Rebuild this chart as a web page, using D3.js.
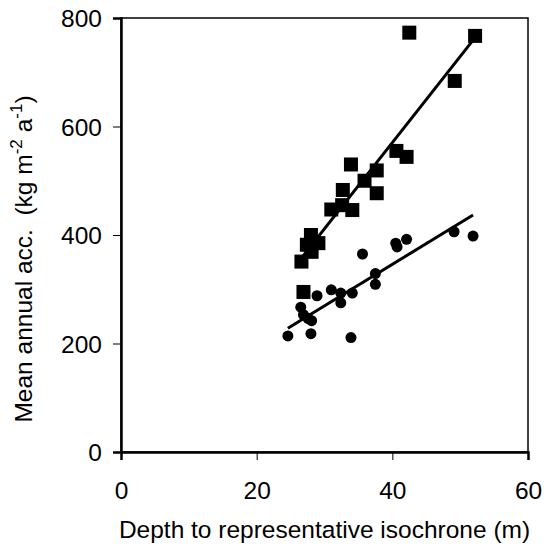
<!DOCTYPE html>
<html>
  <head>
    <meta charset="utf-8">
    <title>Mean annual accumulation vs isochrone depth</title>
    <script src="https://cdn.jsdelivr.net/npm/d3@7"></script>
    <style>
      body { margin: 0; background: #fff; }
      text { font-family: "Liberation Sans", Arial, sans-serif; fill: #000; }
    </style>
  </head>
  <body>
    <svg id="chart" width="544" height="553"></svg>

    <script>
      // squares: depth (m), mean annual acc.
      squareDepth = [42.5, 52.2, 49.2, 40.6, 42.1, 33.9, 37.7, 35.9, 37.7, 32.7, 31.0, 32.6, 34.1, 28.0, 27.4, 29.1, 28.1, 26.6, 26.9];
      squareAcc = [773, 767, 684, 555, 544, 530, 519, 500, 477, 483, 447, 455, 446, 400, 382, 385, 369, 351, 295];
      // circles
      circleDepth = [24.6, 28.0, 33.9, 26.5, 26.9, 27.6, 28.1, 28.9, 31.0, 32.4, 32.4, 34.1, 37.5, 37.5, 35.6, 40.5, 40.7, 42.1, 49.1, 51.9];
      circleAcc = [214, 218, 211, 267, 253, 246, 242, 288, 299, 293, 275, 293, 329, 309, 365, 385, 378, 392, 406, 398];
      // fitted lines (end points)
      squareFitDepth = [26.5, 51.7];
      squareFitAcc = [356, 756];
      circleFitDepth = [24.6, 51.9];
      circleFitAcc = [228, 437];
      xTicks = [0, 20, 40, 60];
      yTicks = [0, 200, 400, 600, 800];

      margin = { top: 18, right: 16, bottom: 101, left: 121 };
      svg = d3.select("#chart");
      width = 544 - margin.left - margin.right;
      height = 553 - margin.top - margin.bottom;
      fontSize = 24.5;

      x = d3.scaleLinear().domain([0, 60]).range([0, width]);
      y = d3.scaleLinear().domain([0, 800]).range([height, 0]);

      g = svg.append("g")
        .attr("transform", "translate(" + margin.left + "," + margin.top + ")");

      // frame
      g.append("rect")
        .attr("width", width)
        .attr("height", height)
        .attr("fill", "none")
        .attr("stroke", "#000")
        .attr("stroke-width", 1.5);

      xAxis = g.append("g")
        .attr("transform", "translate(0," + height + ")")
        .call(d3.axisBottom(x).tickValues(xTicks).tickSize(8).tickPadding(22));
      yAxis = g.append("g")
        .call(d3.axisLeft(y).tickValues(yTicks).tickSize(8).tickPadding(11));

      [xAxis, yAxis].forEach(function(a) {
        a.select(".domain").attr("stroke-width", 2.5);
        a.selectAll(".tick line").attr("stroke-width", 1);
        a.selectAll(".tick text")
          .attr("font-size", fontSize)
          .attr("font-family", "Liberation Sans, Arial, sans-serif");
      });
      yAxis.selectAll(".tick text").attr("dy", "0.36em");

      // fit lines
      line = d3.line()
        .x(function(d) { return x(d[0]); })
        .y(function(d) { return y(d[1]); });
      g.append("path")
        .attr("d", line(d3.zip(squareFitDepth, squareFitAcc)))
        .attr("stroke", "#000")
        .attr("stroke-width", 3)
        .attr("fill", "none");
      g.append("path")
        .attr("d", line(d3.zip(circleFitDepth, circleFitAcc)))
        .attr("stroke", "#000")
        .attr("stroke-width", 3)
        .attr("fill", "none");

      // points
      sq = 14;
      g.selectAll(".sq")
        .data(d3.zip(squareDepth, squareAcc))
        .join("rect")
          .attr("class", "sq")
          .attr("x", function(d) { return x(d[0]) - sq / 2; })
          .attr("y", function(d) { return y(d[1]) - sq / 2; })
          .attr("width", sq)
          .attr("height", sq)
          .attr("fill", "#000");
      g.selectAll(".ci")
        .data(d3.zip(circleDepth, circleAcc))
        .join("circle")
          .attr("class", "ci")
          .attr("cx", function(d) { return x(d[0]); })
          .attr("cy", function(d) { return y(d[1]); })
          .attr("r", 5.5)
          .attr("fill", "#000");

      // axis titles
      svg.append("text")
        .attr("x", margin.left + width / 2)
        .attr("y", 538)
        .attr("text-anchor", "middle")
        .attr("font-size", fontSize)
        .text("Depth to representative isochrone (m)");

      yTitle = svg.append("text")
        .attr("transform", "translate(32,259) rotate(-90)")
        .attr("text-anchor", "middle")
        .attr("font-size", fontSize)
        .attr("xml:space", "preserve");
      yTitle.append("tspan").text("Mean annual acc.  (kg m");
      yTitle.append("tspan").attr("dy", -10).attr("font-size", 17).text("-2");
      yTitle.append("tspan").attr("dy", 10).text(" a");
      yTitle.append("tspan").attr("dy", -10).attr("font-size", 17).text("-1");
      yTitle.append("tspan").attr("dy", 10).text(")");
    </script>
  </body>
</html>
